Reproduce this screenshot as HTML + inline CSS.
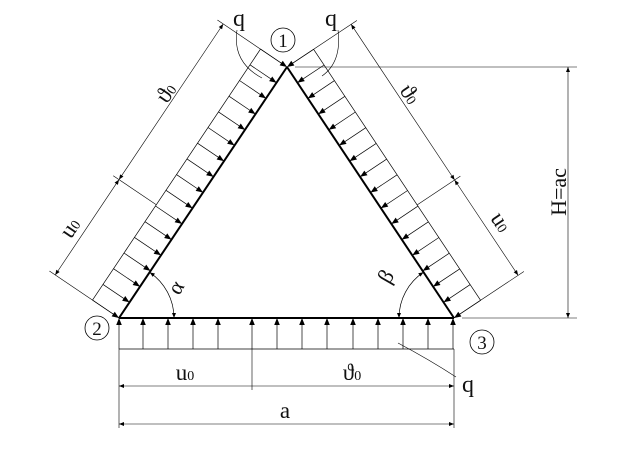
<!DOCTYPE html>
<html><head><meta charset="utf-8"><style>
html,body{margin:0;padding:0;background:#fff;width:637px;height:449px;overflow:hidden}
svg{display:block}
text{font-family:"Liberation Serif",serif;fill:#111}
</style></head><body>
<svg id="s" width="637" height="449" viewBox="0 0 637 449" xmlns="http://www.w3.org/2000/svg">
<defs>
<marker id="a" viewBox="0 0 10 10" refX="10" refY="5" markerWidth="11" markerHeight="7" markerUnits="userSpaceOnUse" orient="auto"><path d="M0,1 L10,5 L0,9z" fill="#000"/></marker>
<marker id="d" viewBox="0 0 10 10" refX="10" refY="5" markerWidth="13" markerHeight="5" markerUnits="userSpaceOnUse" orient="auto-start-reverse"><path d="M0,1 L10,5 L0,9z" fill="#000"/></marker>
</defs>
<g id="g" stroke="#000" fill="none"></g>
<text x="233" y="26" font-size="24">q</text>
<text x="325" y="26" font-size="24">q</text>
<text x="462" y="392" font-size="24">q</text>
<circle cx="283" cy="40" r="12" fill="none" stroke="#000" stroke-width="0.8"/>
<text x="283" y="47" font-size="19" text-anchor="middle">1</text>
<circle cx="97" cy="328" r="12" fill="none" stroke="#000" stroke-width="0.8"/>
<text x="97" y="335" font-size="19" text-anchor="middle">2</text>
<circle cx="482" cy="342" r="12" fill="none" stroke="#000" stroke-width="0.8"/>
<text x="482" y="349" font-size="19" text-anchor="middle">3</text>
<text x="185" y="380" font-size="23" text-anchor="middle">u<tspan font-size="14">0</tspan></text>
<text x="352" y="380" font-size="23" text-anchor="middle">ϑ<tspan font-size="14">0</tspan></text>
<text x="285" y="418" font-size="23" text-anchor="middle">a</text>
<text font-size="22" text-anchor="middle" transform="translate(566,192) rotate(-90)">H=ac</text>
<text font-size="23" text-anchor="middle" transform="translate(172,97) rotate(-56)">ϑ<tspan font-size="14">0</tspan></text>
<text font-size="23" text-anchor="middle" transform="translate(76,232) rotate(-56)">u<tspan font-size="14">0</tspan></text>
<text font-size="23" text-anchor="middle" transform="translate(404,98) rotate(56)">ϑ<tspan font-size="14">0</tspan></text>
<text font-size="23" text-anchor="middle" transform="translate(495,226) rotate(56)">u<tspan font-size="14">0</tspan></text>
<text font-size="22" text-anchor="middle" transform="translate(182,291) rotate(-60)">α</text>
<text font-size="22" text-anchor="middle" transform="translate(392,280) rotate(-60)">β</text>
</svg>
<script>
var g=document.getElementById('g'),o='';
function L(x1,y1,x2,y2,w,m,ms){o+='<line x1="'+x1.toFixed(1)+'" y1="'+y1.toFixed(1)+'" x2="'+x2.toFixed(1)+'" y2="'+y2.toFixed(1)+'" stroke-width="'+(w||0.7)+'"'+(m?' marker-end="url(#'+m+')"':'')+(ms?' marker-start="url(#'+ms+')"':'')+'/>';}
var V1=[287,67],V2=[119,318],V3=[454,318];
L(V2[0],V2[1],V1[0],V1[1],2);L(V1[0],V1[1],V3[0],V3[1],2);L(V2[0],V2[1],V3[0],V3[1],2);
function side(A,B,n,split){
 var dx=B[0]-A[0],dy=B[1]-A[1];
 var off=32;
 L(A[0]+n[0]*off,A[1]+n[1]*off,B[0]+n[0]*off,B[1]+n[1]*off,0.7);
 for(var i=0;i<=16;i++){var t=i/16,px=A[0]+dx*t,py=A[1]+dy*t;
  L(px+n[0]*off,py+n[1]*off,px,py,0.7,'a');}
 L(A[0]+n[0]*4,A[1]+n[1]*4,A[0]+n[0]*84,A[1]+n[1]*84,0.6);
 L(B[0]+n[0]*4,B[1]+n[1]*4,B[0]+n[0]*84,B[1]+n[1]*84,0.6);
 var D=77;
 var sx=A[0]+dx*split,sy=A[1]+dy*split;
 L(sx+n[0]*off,sy+n[1]*off,sx+n[0]*84,sy+n[1]*84,0.6);
 L(sx+n[0]*D,sy+n[1]*D,A[0]+n[0]*D,A[1]+n[1]*D,0.6,'d','d');
 L(sx+n[0]*D,sy+n[1]*D,B[0]+n[0]*D,B[1]+n[1]*D,0.6,'d','d');
}
side(V2,V1,[-0.829,-0.559],0.38);
side(V3,V1,[0.832,-0.554],0.38);
L(119,349,454,349,0.7);
var xs=[119,143,168,193,218,252,277,302,327,353,378,403,428,453];
xs.forEach(function(x){L(x,349,x,318,0.7,'a');});
L(252,349,252,390,0.6);
L(119,349,119,428,0.6);L(454,349,454,428,0.6);
L(252,386,119,386,0.6,'d');L(252,386,454,386,0.6,'d');
L(119,424,454,424,0.6,'d','d');
L(295,67,577,67,0.6);L(462,318,577,318,0.6);
L(568,67,568,318,0.6,'d','d');
o+='<path d="M398,343 Q430,360 456,377" stroke-width="0.6"/>';
o+='<path d="M237,30 Q232,62 262,78" stroke-width="0.6"/>';
o+='<path d="M338,30 Q342,62 322,76" stroke-width="0.6"/>';
var r=55;
o+='<path d="M'+(119+r*0.559).toFixed(1)+','+(318-r*0.829).toFixed(1)+' A'+r+','+r+' 0 0 1 '+(119+r)+',318" stroke-width="0.7" marker-end="url(#d)" marker-start="url(#d)"/>';
o+='<path d="M'+(454-r*0.554).toFixed(1)+','+(318-r*0.832).toFixed(1)+' A'+r+','+r+' 0 0 0 '+(454-r)+',318" stroke-width="0.7" marker-end="url(#d)" marker-start="url(#d)"/>';
g.innerHTML=o;
</script>
</body></html>
